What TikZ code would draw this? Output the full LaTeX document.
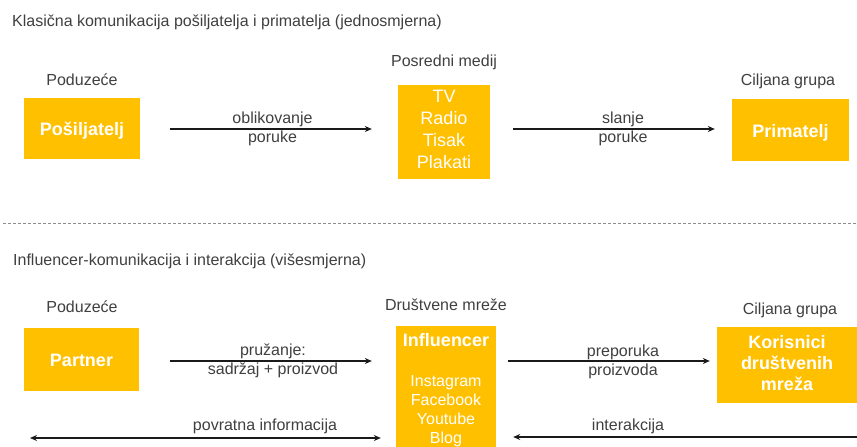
\documentclass[tikz,border=0pt]{standalone}
\usepackage{fontspec}
\setmainfont{Liberation Sans}
\usetikzlibrary{arrows.meta}
\definecolor{gold}{HTML}{FFC000}
\definecolor{txt}{HTML}{404040}
\definecolor{arr}{HTML}{1A1A1A}
\definecolor{dashc}{HTML}{8C8C8C}
\begin{document}
\begin{tikzpicture}[x=1pt,y=-1pt,
  lbl/.style={text=txt,font=\fontsize{16}{19}\selectfont,inner sep=0pt,anchor=base},
  lbltwo/.style={text=txt,font=\fontsize{16}{19}\selectfont,inner sep=0pt,anchor=center,align=center},
  box/.style={fill=gold,draw=none,text=white,font=\bfseries\fontsize{18}{21}\selectfont,inner sep=0pt,align=center},
  boxtxt/.style={text=white,inner sep=0pt,align=center},
  arrow/.style={draw=arr,line width=1.3pt,-{Stealth[length=7pt,width=6pt]}},
  arrowboth/.style={draw=arr,line width=1.3pt,{Stealth[length=7pt,width=6pt]}-{Stealth[length=7pt,width=6pt]}},
  sepline/.style={draw=dashc,line width=0.8pt,dash pattern=on 3pt off 2pt}]
\useasboundingbox[fill=white] (0,0) rectangle (857,447);

% titles
\node[lbl,anchor=base west] (t1) at (12,26.5) {Klasična komunikacija pošiljatelja i primatelja (jednosmjerna)};
\node[lbl,anchor=base west] (t2) at (13,265) {Influencer-komunikacija i interakcija (višesmjerna)};

% headers
\node[lbl] (h1) at (82,85) {Poduzeće};
\node[lbl] (h2) at (444,66.5) {Posredni medij};
\node[lbl] (h3) at (788,85) {Ciljana grupa};
\node[lbl] (h4) at (82,312.5) {Poduzeće};
\node[lbl] (h5) at (446,310) {Društvene mreže};
\node[lbl] (h6) at (790,314) {Ciljana grupa};

% boxes top
\node[box,minimum width=116pt,minimum height=61pt,text height=14pt,text depth=0pt] (posil) at (82,128.5) {Pošiljatelj};
\node[box,font=\fontsize{18}{22}\selectfont,minimum width=92pt,minimum height=94pt] (medij) at (444,131.5)
  {\strut TV\\\strut Radio\\\strut Tisak\\\strut Plakati};
\node[box,minimum width=117pt,minimum height=62pt,text height=14pt,text depth=0pt] (primat) at (790.5,130) {Primatelj};

% boxes bottom
\node[box,minimum width=115pt,minimum height=63pt,text height=13pt,text depth=0pt] (partner) at (81.5,359.5) {Partner};
\node[box,minimum width=100pt,minimum height=121pt] (infl) at (446,386.5) {};
\node[boxtxt,anchor=base,font=\bfseries\fontsize{18}{21}\selectfont] (inflname) at (446,346) {Influencer};
\node[boxtxt,font=\fontsize{16}{19}\selectfont] (platforms) at (446,410.7)
  {\strut Instagram\\\strut Facebook\\\strut Youtube\\\strut Blog};
\node[box,minimum width=140pt,minimum height=76pt] (koris) at (787,365)
  {\strut Korisnici\\\strut društvenih\\\strut mreža};

% separator
\coordinate (dashL) at (3,223);
\coordinate (dashR) at (857,223);
\draw[sepline] (dashL) -- (dashR);

% rows
\coordinate (row1) at (0,129);
\coordinate (row2) at (0,361);
\coordinate (fbL) at (30,438);
\coordinate (intR) at (857,437);

\draw[arrow,shorten <=30pt,shorten >=26pt] (posil.east |- row1) -- (medij.west |- row1);
\draw[arrow,shorten <=23pt,shorten >=17pt] (medij.east |- row1) -- (primat.west |- row1);
\draw[arrow,shorten <=31pt,shorten >=24pt] (partner.east |- row2) -- (infl.west |- row2);
\draw[arrow,shorten <=12pt,shorten >=7pt] (infl.east |- row2) -- (koris.west |- row2);
\draw[arrowboth,shorten >=15pt] (fbL) -- (infl.west |- fbL);
\draw[arrow,shorten >=17pt] (intR) -- (infl.east |- intR);

% labels
\node[lbltwo] (l1) at (272.5,128.7) {\strut oblikovanje\\\strut poruke};
\node[lbltwo] (l2) at (623,129) {\strut slanje\\\strut poruke};
\node[lbltwo] (l3) at (273,360.7) {\strut pružanje:\\\strut sadržaj + proizvod};
\node[lbltwo] (l4) at (623,361.7) {\strut preporuka\\\strut proizvoda};
\node[lbl] (l5) at (265,430.7) {povratna informacija};
\node[lbl] (l6) at (628,430.7) {interakcija};
\end{tikzpicture}
\end{document}
